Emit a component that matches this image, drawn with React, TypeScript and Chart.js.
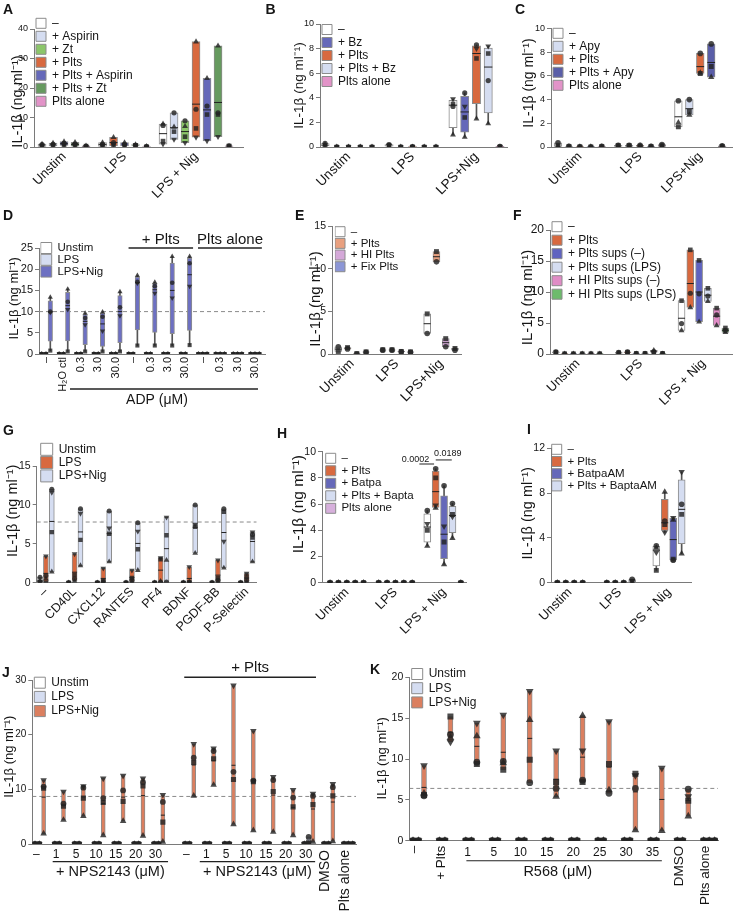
import React, { useEffect, useRef } from 'react';
import { Chart, registerables } from 'chart.js';

Chart.register(...registerables);

const FONT = "'Liberation Sans', Arial, Helvetica, sans-serif";
const Y_TITLE = 'IL-1β (ng ml⁻¹)';
const Z4 = [0, 0, 0, 0];
const T3 = [0, 1, 2];

// ================= DATA =================
// ---- A ----
const A_CONDS = ['–', '+ Aspirin', '+ Zt', '+ Plts', '+ Plts + Aspirin', '+ Plts + Zt', 'Plts alone'];
const A_GROUPS = ['Unstim', 'LPS', 'LPS + Nig'];
const A_ITEMS = [[0, 1, 4, 5, 6], [0, 3, 4, 5, 6], [0, 1, 2, 3, 4, 5, 6]];
const A_VALUES = [
  [[1.0, 0.8, 0.2, 0.5], [1.3, 0.9, 0.4, 0.6], [1.8, 1.2, 0.5, 0.9], [1.6, 1.0, 0.3, 0.7], [0.4, 0.2, 0.3, 0.1]],
  [[1.5, 0.9, 0.2, 0.6], [3.3, 1.5, 0.4, 0.8], [1.5, 0.9, 0.4, 0.6], [0.8, 0.6, 0.5, 0.7], [0.2, 0.1, 0.1, 0.0]],
  [[7.8, 7.3, 2.0, 1.0], [6.8, 11.6, 5.2, 2.6], [7.0, 8.9, 3.5, 1.5], [35.7, 12.8, 6.3, 3.3], [23.3, 13.9, 11.0, 2.1], [34.3, 11.6, 11.0, 3.5], [0.3, 0.2, 0.4, 0.3]],
];
const A_Y_TICKS = [0, 10, 20, 30, 40];

// ---- B ----
const B_CONDS = ['–', '+ Bz', '+ Plts', '+ Plts + Bz', 'Plts alone'];
const B_GROUPS = ['Unstim', 'LPS', 'LPS+Nig'];
const B_ITEMS = [[0, 1, 2, 3, 4], [0, 1, 2, 3, 4], [0, 1, 2, 3, 4]];
const B_VALUES = [
  [[0.3, 0.15, 0.1, 0.2], Z4, Z4, Z4, Z4],
  [[0.2, 0.1, 0.15, 0.05], Z4, [0.03, 0.02, 0.01, 0], Z4, Z4],
  [[3.3, 3.9, 3.5, 1.0], [4.4, 3.3, 2.4, 0.8], [8.3, 8.0, 7.2, 2.3], [5.4, 8.2, 7.6, 1.9], [0.05, 0.02, 0.03, 0]],
];
const B_Y_TICKS = [0, 2, 4, 6, 8, 10];

// ---- C ----
const C_CONDS = ['–', '+ Apy', '+ Plts', '+ Plts + Apy', 'Plts alone'];
const C_GROUPS = ['Unstim', 'LPS', 'LPS+Nig'];
const C_ITEMS = [[0, 1, 2, 3, 4], [0, 1, 2, 3, 4], [0, 1, 2, 3, 4]];
const C_VALUES = [
  [[0.35, 0.1, 0.05], [0.05, 0.02, 0], [0.02, 0, 0.01], [0, 0, 0.01], [0.05, 0.02, 0]],
  [[0.15, 0.1, 0.05], [0.15, 0.1, 0.05], [0.15, 0.05, 0.1], [0.05, 0.02, 0], [0.2, 0.1, 0.05]],
  [[3.9, 1.7, 2.05], [4.0, 3.0, 2.7], [7.9, 6.2, 6.25], [8.7, 6.8, 5.9], [0.1, 0.05, 0.02]],
];
const C_Y_TICKS = [0, 2, 4, 6, 8, 10];

// ---- D ----
const D_CONDS = ['Unstim', 'LPS', 'LPS+Nig'];
const D_GROUPS = ['–', 'H₂O ctl', '0.3', '3.0', '30.0', '–', '0.3', '3.0', '30.0', '–', '0.3', '3.0', '30.0'];
const D_ITEMS = [T3, T3, T3, T3, T3, T3, T3, T3, T3, T3, T3, T3, T3];
const D_VALUES = [
  [Z4, Z4, [13.4, 10.0, 9.8, 0.8]],
  [Z4, Z4, [15.3, 12.3, 10.5, 0.6]],
  [Z4, Z4, [9.6, 8.5, 6.9, 0.6]],
  [Z4, Z4, [9.9, 8.8, 5.4, 0.6]],
  [Z4, Z4, [14.7, 11.0, 9.0, 0.6]],
  [Z4, Z4, [18.5, 17.0, 16.7, 2.0]],
  [Z4, Z4, [16.9, 16.0, 14.3, 2.0]],
  [Z4, Z4, [23.0, 16.8, 13.2, 2.0]],
  [Z4, Z4, [23.0, 21.4, 16.0, 2.1]],
  [Z4, Z4, Z4],
  [Z4, Z4, Z4],
  [Z4, Z4, Z4],
  [Z4, Z4, Z4],
];
const D_Y_TICKS = [0, 5, 10, 15, 20, 25];
const D_REF = 10;

// ---- E ----
const E_CONDS = ['–', '+ Plts', '+ HI Plts', '+ Fix Plts'];
const E_GROUPS = ['Unstim', 'LPS', 'LPS+Nig'];
const E_ITEMS = [[0, 1, 2, 3], [0, 1, 2, 3], [0, 1, 2, 3]];
const E_VALUES = [
  [[0.3, 0.85], [0.75, 0.6], [0.05, 0.0], [0.25, 0.2]],
  [[0.5, 0.45], [0.5, 0.45], [0.3, 0.25], [0.25, 0.2]],
  [[4.7, 2.4], [12.0, 10.8], [1.8, 0.85], [0.65, 0.45]],
];
const E_Y_TICKS = [0, 5, 10, 15];

// ---- F ----
const F_CONDS = ['–', '+ Plts', '+ Plts sups (–)', '+ Plts sups (LPS)', '+ HI Plts sups (–)', '+ HI Plts sups (LPS)'];
const F_GROUPS = ['Unstim', 'LPS', 'LPS + Nig'];
const F_ITEMS = [[0, 1, 2, 3, 4, 5], [0, 1, 2, 3, 4, 5], [0, 1, 2, 3, 4, 5]];
const F_VALUES = [
  [[0.3, 0.35, 0.2], [0.05, 0, 0], [0.05, 0, 0], [0.05, 0, 0], [0.05, 0, 0], [0.05, 0, 0]],
  [[0.2, 0.25, 0.1], [0.3, 0.35, 0.2], [0.1, 0.05, 0], [0.1, 0.05, 0], [0.3, 0.35, 0.6], [0.1, 0.05, 0]],
  [[8.6, 4.9, 3.8], [16.8, 9.8, 7.5], [15.1, 9.7, 5.2], [10.6, 9.35, 8.5], [7.4, 6.3, 4.6], [4.2, 3.8, 3.5]],
];
const F_Y_TICKS = [0, 5, 10, 15, 20];

// ---- G ----
const G_CONDS = ['Unstim', 'LPS', 'LPS+Nig'];
const G_GROUPS = ['–', 'CD40L', 'CXCL12', 'RANTES', 'PF4', 'BDNF', 'PGDF-BB', 'P-Selectin'];
const G_ITEMS = [T3, T3, T3, T3, T3, T3, T3, T3];
const G_VALUES = [
  [[0.7, 0.05, 0.0, 0.3], [0.9, 3.4, 0.0, 0.5], [12.0, 11.6, 6.5, 1.4]],
  [Z4, [0.5, 3.7, 1.0, 0.2], [9.5, 8.9, 5.5, 2.2]],
  [Z4, [0.1, 1.85, 0.2, 0.05], [9.2, 7.0, 6.3, 2.7]],
  [Z4, [0.3, 1.6, 0.6, 0.1], [7.7, 6.6, 4.3, 1.6]],
  [Z4, [0.05, 3.2, 3.0, 0.2], [0.1, 8.4, 6.1, 2.9]],
  [Z4, [0.1, 2.05, 0.0, 0.05], [10.0, 7.5, 7.2, 3.8]],
  [Z4, [0.3, 2.9, 0.6, 0.1], [9.5, 5.3, 9.1, 1.9]],
  [Z4, [0.3, 1.2, 0.8, 0.1], [6.2, 6.5, 5.8, 2.7]],
];
const G_Y_TICKS = [0, 5, 10, 15];
const G_REF = 7.8;

// ---- H ----
const H_CONDS = ['–', '+ Plts', '+ Batpa', '+ Plts + Bapta', 'Plts alone'];
const H_GROUPS = ['Unstim', 'LPS', 'LPS + Nig'];
const H_ITEMS = [[0, 1, 2, 3, 4], [0, 1, 2, 3, 4], [0, 1, 2, 3, 4]];
const H_VALUES = [
  [Z4, Z4, Z4, Z4, Z4],
  [Z4, Z4, Z4, Z4, Z4],
  [[5.5, 4.0, 4.5, 2.8], [8.7, 8.0, 5.9, 5.7], [7.4, 3.1, 4.3, 1.4], [6.05, 5.2, 5.05, 3.4], Z4],
];
const H_Y_TICKS = [0, 2, 4, 6, 8, 10];
const H_P_VALUES = ['0.0002', '0.0189'];

// ---- I ----
const I_CONDS = ['–', '+ Plts', '+ BatpaAM', '+ Plts + BaptaAM'];
const I_GROUPS = ['Unstim', 'LPS', 'LPS + Nig'];
const I_ITEMS = [[0, 1, 2, 3], [0, 1, 2, 3], [0, 1, 2, 3]];
const I_VALUES = [
  [Z4, Z4, Z4, Z4],
  [Z4, Z4, Z4, [0.3, 0.1, 0.2, 0.0]],
  [[3.3, 1.1, 2.7, 3.1], [5.5, 5.2, 4.5, 8.1], [2.0, 2.1, 5.8, 5.6], [7.0, 6.1, 9.9, 2.6]],
];
const I_Y_TICKS = [0, 4, 8, 12];

// ---- J ----
const J_CONDS = ['Unstim', 'LPS', 'LPS+Nig'];
const J_GROUPS = ['–', '1', '5', '10', '15', '20', '30', '–', '1', '5', '10', '15', '20', '30', 'DMSO', 'Plts alone'];
const J_ITEMS = [T3, T3, T3, T3, T3, T3, T3, T3, T3, T3, T3, T3, T3, T3, T3, T3];
const J_VALUES = [
  [Z4, Z4, [11.7, 10.5, 10.2, 1.9]],
  [Z4, Z4, [9.6, 7.4, 6.9, 4.4]],
  [Z4, Z4, [10.6, 10.3, 8.4, 5.1]],
  [Z4, Z4, [12.0, 8.4, 7.6, 1.6]],
  [Z4, Z4, [12.5, 9.8, 7.8, 4.2]],
  [Z4, Z4, [12.0, 11.3, 10.6, 1.5]],
  [Z4, Z4, [9.0, 7.7, 4.0, 0.4]],
  [Z4, Z4, [18.3, 15.8, 14.9, 8.8]],
  [Z4, Z4, [17.5, 17.0, 15.6, 10.8]],
  [Z4, Z4, [29.0, 13.2, 11.8, 3.6]],
  [Z4, Z4, [20.7, 11.6, 11.4, 2.5]],
  [Z4, Z4, [12.3, 11.7, 9.6, 2.2]],
  [Z4, Z4, [9.9, 8.5, 6.8, 1.6]],
  [Z4, [0.1, 1.3, 0.2, 0.0], [9.2, 8.8, 7.2, 0.4]],
  [Z4, Z4, [11.0, 10.4, 8.8, 0.5]],
  [Z4, Z4, Z4],
];
const J_Y_TICKS = [0, 10, 20, 30];
const J_REF = 8.7;

// ---- K ----
const K_CONDS = ['Unstim', 'LPS', 'LPS+Nig'];
const K_GROUPS = ['–', '+ Plts', '1', '5', '10', '15', '20', '25', '30', '35', 'DMSO', 'Plts alone'];
const K_ITEMS = [T3, T3, T3, T3, T3, T3, T3, T3, T3, T3, T3, T3];
const K_VALUES = [
  [Z4, Z4, [9.2, 5.8, 5.6, 5.5]],
  [Z4, Z4, [12.1, 12.6, 15.2, 13.0]],
  [Z4, Z4, [14.4, 12.8, 9.4, 9.6]],
  [Z4, Z4, [15.4, 9.5, 8.7, 9.7]],
  [Z4, Z4, [18.3, 14.8, 9.9, 7.1]],
  [Z4, Z4, [11.0, 5.4, 7.2, 6.4]],
  [Z4, Z4, [11.0, 15.3, 7.2, 7.4]],
  [Z4, Z4, [14.6, 6.2, 9.4, 5.8]],
  [Z4, Z4, [8.0, 1.3, 8.2, 6.4]],
  [Z4, Z4, [8.9, 1.2]],
  [Z4, Z4, [5.4, 3.0, 4.9, 6.3]],
  [Z4, Z4, Z4],
];
const K_Y_TICKS = [0, 5, 10, 15, 20];
const K_REF = 6.4;

// ================= STYLE =================
const WHITE = '#ffffff';
const LBLUE = '#d5ddf1';
const ORANGE = '#d8693f';
const BLUE = '#6568b9';
const PINK = '#e293c8';
const PT = 'rgba(35,35,35,0.82)';
const AXIS = '#7a7a7a';
const TXT = '#151515';
const BOX_BORDER = '#8c8c8c';

const A_COLORS = [WHITE, LBLUE, '#8cc66a', ORANGE, BLUE, '#669a5f', PINK];
const B_COLORS = [WHITE, BLUE, ORANGE, LBLUE, PINK];
const C_COLORS = [WHITE, LBLUE, ORANGE, '#5a5ea8', PINK];
const D_COLORS = [WHITE, LBLUE, '#6d70c2'];
const E_COLORS = [WHITE, '#e9a07f', '#d4a8d8', '#8c96d6'];
const F_COLORS = [WHITE, ORANGE, '#5f63c0', LBLUE, '#e08cc6', '#6dbb6c'];
const G_COLORS = [WHITE, ORANGE, LBLUE];
const H_COLORS = [WHITE, ORANGE, BLUE, LBLUE, '#d7b0dc'];
const I_COLORS = [WHITE, ORANGE, BLUE, LBLUE];
const JK_COLORS = [WHITE, LBLUE, '#db7f5f'];

// ================= HELPERS =================
function mean(v: number[]) {
  return v.reduce((a, b) => a + b, 0) / v.length;
}
function quant(sorted: number[], p: number) {
  const n = sorted.length;
  const h = (n + 1) * p;
  if (h <= 1) return sorted[0];
  if (h >= n) return sorted[n - 1];
  const lo = Math.floor(h);
  return sorted[lo - 1] + (h - lo) * (sorted[lo] - sorted[lo - 1]);
}

function buildConfig(def: any) {
  const [cx, cy, cw, ch] = def.canvas;
  const [al, at, ar, ab] = def.area;
  const starts: number[] = [];
  let s = 0;
  def.items.forEach((items: number[], g: number) => {
    if (g > 0) s += def.gap + ((def.extraGap && def.extraGap[g]) || 0);
    starts.push(s);
    s += items.length;
  });
  const lastG = def.items.length - 1;
  const lastX = starts[lastG] + def.items[lastG].length - 1;
  const xMin = -def.padL;
  const xMax = lastX + def.padR;
  const pos = (g: number, i: number) => starts[g] + i;
  const yMax = def.yTicks[def.yTicks.length - 1];

  const boxes = def.conds.map((label: string, c: number) => ({
    type: 'bar', label, isLegend: true, data: [] as any[],
    backgroundColor: def.colors[c], borderColor: BOX_BORDER, borderWidth: 1, borderSkipped: false,
    barThickness: def.barW, grouped: false, order: 3,
  }));
  const whisk = { type: 'bar', label: 'w', data: [] as any[], backgroundColor: '#555', borderWidth: 0, barThickness: 1, grouped: false, order: 4 };
  const centre = {
    type: 'scatter', label: 'm', data: [] as any[], pointStyle: 'line', pointRadius: def.barW / 2,
    pointBorderColor: '#222', pointBackgroundColor: '#222', pointBorderWidth: 1, order: 2,
  };
  const pts = def.shapes.map((sh: string, r: number) => ({
    type: 'scatter', label: 'p' + r, data: [] as any[],
    pointStyle: sh === 'down' ? 'triangle' : sh,
    pointRotation: sh === 'down' ? 180 : 0,
    pointRadius: sh === 'circle' ? def.pointR : sh === 'rect' ? def.pointR * 1.25 : def.pointR * 1.3,
    pointBackgroundColor: PT, pointBorderColor: PT, pointBorderWidth: 0,
    order: sh === 'rect' ? 0.9 : 1,
  }));

  def.items.forEach((items: number[], g: number) => items.forEach((c: number, i: number) => {
    const x = pos(g, i);
    const v: number[] = def.values[g][i];
    const sorted = [...v].sort((a, b) => a - b);
    const lo = sorted[0];
    const hi = sorted[sorted.length - 1];
    if (def.mode === 'range') {
      if (hi - lo > 0) boxes[c].data.push({ x, y: [lo, hi] });
      if (hi - lo > yMax * 0.03) centre.data.push({ x, y: mean(v) });
    } else {
      if (hi - lo > 0) {
        whisk.data.push({ x, y: [lo, hi] });
        boxes[c].data.push({ x, y: [quant(sorted, 0.25), quant(sorted, 0.75)] });
      }
      if (hi - lo > yMax * 0.03) centre.data.push({ x, y: quant(sorted, 0.5) });
    }
    v.forEach((val, r) => pts[r % pts.length].data.push({ x, y: val }));
  }));

  const datasets: any[] = [...boxes, whisk, centre, ...pts];
  if (def.ref !== undefined) {
    datasets.push({
      type: 'line', label: 'ref', data: [{ x: xMin, y: def.ref }, { x: xMax, y: def.ref }],
      borderColor: '#8a8a8a', borderWidth: 1, borderDash: [4, 3], pointRadius: 0, order: 5,
    });
  }

  const vertical: number[] = def.vertical || [];
  const labelAt = (g: number) => (def.labelAt === 'center' ? (def.items[g].length - 1) / 2 : def.labelAt);
  const tickVals = def.groups.map((_: string, g: number) => pos(g, labelAt(g)));
  const tickLabels = def.groups.map((t: string, g: number) => (vertical.includes(g) ? '' : t));

  const lg = def.legend;
  const boxH = lg.box;
  const itemH = Math.max(lg.font, boxH);
  const lpad = lg.spacing - itemH;

  const decor = {
    id: 'decor' + def.key,
    afterLayout(chart: any) {
      const L = chart.legend;
      if (!L) return;
      L.left = lg.x - cx - lpad;
      L.top = lg.y - cy - lpad;
      L.right = L.left + 400;
      L.bottom = L.top + 400;
    },
    afterDraw(chart: any) {
      const ctx = chart.ctx;
      const xs = chart.scales.x;
      const ys = chart.scales.y;
      const bottom = chart.chartArea.bottom;
      const X = (g: number, i: number) => xs.getPixelForValue(pos(g, i));
      const Y = (a: any) => (a.y !== undefined ? ys.getPixelForValue(a.y) : bottom + a.below);
      ctx.save();
      ctx.fillStyle = TXT;
      ctx.strokeStyle = '#222';
      ctx.font = `bold 14px ${FONT}`;
      ctx.textAlign = 'left';
      ctx.textBaseline = 'top';
      ctx.fillText(def.letter.t, def.letter.x - cx, def.letter.y - cy);

      ctx.save();
      ctx.translate(def.title.x - cx, def.title.y - cy);
      ctx.rotate(-Math.PI / 2);
      ctx.font = `${def.title.size}px ${FONT}`;
      ctx.textAlign = 'center';
      ctx.textBaseline = 'middle';
      ctx.fillText(Y_TITLE, 0, 0);
      ctx.restore();

      vertical.forEach((g: number) => {
        ctx.save();
        ctx.translate(X(g, def.vertAt), bottom + def.vertBelow);
        ctx.rotate(-Math.PI / 2);
        ctx.font = `${def.vertFont}px ${FONT}`;
        ctx.textAlign = 'right';
        ctx.textBaseline = 'middle';
        ctx.fillText(def.groups[g], 0, 0);
        ctx.restore();
      });

      (def.anns || []).forEach((a: any) => {
        if (a.kind === 'line') {
          ctx.beginPath();
          ctx.lineWidth = a.w || 1.3;
          const y = Y(a);
          ctx.moveTo(X(a.g0, a.i0), y);
          ctx.lineTo(X(a.g1, a.i1), y);
          ctx.stroke();
        } else {
          ctx.font = `${a.size}px ${FONT}`;
          ctx.textAlign = a.align || 'center';
          ctx.textBaseline = 'middle';
          ctx.fillText(a.text, X(a.g, a.i), Y(a));
        }
      });
      ctx.restore();
    },
  };

  return {
    type: 'bar',
    data: { datasets },
    options: {
      responsive: false,
      animation: false,
      devicePixelRatio: 1,
      events: [],
      layout: { padding: { left: 0, top: at - cy, right: cx + cw - ar, bottom: 0 } },
      plugins: {
        tooltip: { enabled: false },
        legend: {
          display: true,
          position: 'chartArea',
          align: 'start',
          labels: {
            boxWidth: lg.box, boxHeight: boxH, padding: lpad,
            font: { size: lg.font, family: FONT }, color: TXT,
            filter: (item: any, data: any) => !!data.datasets[item.datasetIndex].isLegend,
          },
        },
      },
      scales: {
        x: {
          type: 'linear', min: xMin, max: xMax, offset: false, bounds: 'data',
          grid: { display: false, drawTicks: false, offset: false },
          border: { display: true, color: AXIS, width: 1 },
          afterBuildTicks: (sc: any) => { sc.ticks = tickVals.map((value: number) => ({ value })); },
          afterFit: (sc: any) => { sc.height = ch - (ab - cy); },
          ticks: {
            autoSkip: false, minRotation: def.rotation, maxRotation: def.rotation,
            padding: def.tickPad, color: TXT, font: { size: def.tickFont, family: FONT },
            callback: (_v: any, i: number) => tickLabels[i],
          },
        },
        y: {
          type: 'linear', min: 0, max: yMax, bounds: 'data',
          grid: { display: true, drawOnChartArea: false, drawTicks: true, tickLength: 4, color: AXIS },
          border: { display: true, color: AXIS, width: 1 },
          afterBuildTicks: (sc: any) => { sc.ticks = def.yTicks.map((value: number) => ({ value })); },
          afterFit: (sc: any) => { sc.width = al - cx; },
          ticks: { padding: 2, color: TXT, font: { size: def.yTickFont, family: FONT } },
        },
      },
    },
    plugins: [decor],
  };
}

// ================= PANELS =================
const PANELS: any[] = [
  {
    key: 'A', canvas: [0, 0, 255, 210], area: [34, 29, 243, 147],
    conds: A_CONDS, colors: A_COLORS, groups: A_GROUPS, items: A_ITEMS, values: A_VALUES, yTicks: A_Y_TICKS,
    mode: 'range', gap: 0.5, padL: 0.73, padR: 1.27, shapes: ['triangle', 'circle', 'rect', 'down'],
    pointR: 2.6, barW: 8, rotation: 45, tickFont: 13, tickPad: 2, labelAt: 'center', yTickFont: 9,
    legend: { x: 36, y: 17.3, font: 12, box: 10, spacing: 13 },
    title: { x: 18, y: 101.5, size: 14.5 }, letter: { t: 'A', x: 3, y: 3.5 },
  },
  {
    key: 'B', canvas: [245, 0, 275, 210], area: [320, 24, 507, 147],
    conds: B_CONDS, colors: B_COLORS, groups: B_GROUPS, items: B_ITEMS, values: B_VALUES, yTicks: B_Y_TICKS,
    mode: 'box', gap: 0.45, padL: 0.43, padR: 0.6, shapes: ['circle', 'down', 'rect', 'triangle'],
    pointR: 2.6, barW: 8.3, rotation: 45, tickFont: 13.5, tickPad: 2, labelAt: 'center', yTickFont: 9,
    legend: { x: 322, y: 23.5, font: 12, box: 10, spacing: 13 },
    title: { x: 299, y: 85.5, size: 13.5 }, letter: { t: 'B', x: 265.5, y: 3.5 },
  },
  {
    key: 'C', canvas: [490, 0, 247, 210], area: [551, 28.5, 733, 147],
    conds: C_CONDS, colors: C_COLORS, groups: C_GROUPS, items: C_ITEMS, values: C_VALUES, yTicks: C_Y_TICKS,
    mode: 'range', gap: 0.5, padL: 0.64, padR: 0.9, shapes: ['circle', 'rect', 'triangle'],
    pointR: 2.8, barW: 7.7, rotation: 45, tickFont: 13, tickPad: 2, labelAt: 'center', yTickFont: 9,
    legend: { x: 553, y: 27.3, font: 12, box: 10, spacing: 13 },
    title: { x: 529, y: 83, size: 14 }, letter: { t: 'C', x: 515, y: 3.5 },
  },
  {
    key: 'D', canvas: [0, 180, 285, 245], area: [39, 248, 265, 354],
    conds: D_CONDS, colors: D_COLORS, groups: D_GROUPS, items: D_ITEMS, values: D_VALUES, yTicks: D_Y_TICKS,
    mode: 'box', gap: 1.05, padL: 0.63, padR: 1.33, shapes: ['triangle', 'circle', 'down', 'rect'],
    pointR: 2.3, barW: 4.5, rotation: 90, tickFont: 11, tickPad: 3, labelAt: 1, yTickFont: 11, ref: D_REF,
    legend: { x: 40.7, y: 242.25, font: 11.5, box: 11, spacing: 11.8 },
    title: { x: 14, y: 298.3, size: 13 }, letter: { t: 'D', x: 3, y: 209.5 },
    anns: [
      { kind: 'line', g0: 5, i0: -0.05, g1: 8, i1: 2.8, y: 25 },
      { kind: 'text', g: 6, i: 3.4, y: 27, text: '+ Plts', size: 15 },
      { kind: 'line', g0: 9, i0: -0.1, g1: 12, i1: 2.6, y: 25 },
      { kind: 'text', g: 10, i: 3.3, y: 27, text: 'Plts alone', size: 15 },
      { kind: 'line', g0: 2, i0: -1.52, g1: 12, i1: 1.7, below: 35 },
      { kind: 'text', g: 6, i: 2.5, below: 46, text: 'ADP (μM)', size: 14 },
    ],
  },
  {
    key: 'E', canvas: [245, 180, 250, 245], area: [332, 226, 461, 354],
    conds: E_CONDS, colors: E_COLORS, groups: E_GROUPS, items: E_ITEMS, values: E_VALUES, yTicks: E_Y_TICKS,
    mode: 'range', gap: 0.8, padL: 0.68, padR: 0.65, shapes: ['rect', 'circle'],
    pointR: 2.8, barW: 7, rotation: 45, tickFont: 13.5, tickPad: 2, labelAt: 'center', yTickFont: 10.5,
    legend: { x: 335, y: 225.95, font: 11.5, box: 10, spacing: 11.67 },
    title: { x: 315.7, y: 299, size: 15 }, letter: { t: 'E', x: 295, y: 209.5 },
  },
  {
    key: 'F', canvas: [490, 180, 247, 245], area: [550, 230, 735, 354],
    conds: F_CONDS, colors: F_COLORS, groups: F_GROUPS, items: F_ITEMS, values: F_VALUES, yTicks: F_Y_TICKS,
    mode: 'range', gap: 1.16, padL: 0.67, padR: 0.75, shapes: ['rect', 'circle', 'triangle'],
    pointR: 2.6, barW: 7, rotation: 45, tickFont: 13, tickPad: 2, labelAt: 'center', yTickFont: 12,
    legend: { x: 552, y: 220.7, font: 12, box: 10, spacing: 13.5 },
    title: { x: 527.5, y: 297.5, size: 15 }, letter: { t: 'F', x: 513, y: 209.5 },
  },
  {
    key: 'G', canvas: [0, 390, 270, 250], area: [36.7, 466, 256.7, 582.7],
    conds: G_CONDS, colors: G_COLORS, groups: G_GROUPS, items: G_ITEMS, values: G_VALUES, yTicks: G_Y_TICKS,
    mode: 'range', gap: 1.86, padL: 0.56, padR: 0.71, shapes: ['circle', 'down', 'rect', 'triangle'],
    pointR: 2.5, barW: 5, rotation: 45, tickFont: 12.5, tickPad: 2, labelAt: 1, yTickFont: 10.5, ref: G_REF,
    legend: { x: 40.7, y: 443.3, font: 12, box: 12, spacing: 13.3 },
    title: { x: 12.5, y: 510.8, size: 14.5 }, letter: { t: 'G', x: 3, y: 424.5 },
  },
  {
    key: 'H', canvas: [245, 390, 250, 250], area: [322, 451.7, 466.7, 582.7],
    conds: H_CONDS, colors: H_COLORS, groups: H_GROUPS, items: H_ITEMS, values: H_VALUES, yTicks: H_Y_TICKS,
    mode: 'box', gap: 0.8, padL: 0.96, padR: 0.7, shapes: ['circle', 'rect', 'down', 'triangle'],
    pointR: 2.8, barW: 7, rotation: 45, tickFont: 13, tickPad: 2, labelAt: 'center', yTickFont: 10.5,
    legend: { x: 325.7, y: 452.55, font: 11.5, box: 10, spacing: 12.5 },
    title: { x: 298.3, y: 504.2, size: 15.5 }, letter: { t: 'H', x: 277, y: 427.5 },
    anns: [
      { kind: 'line', g0: 2, i0: -0.95, g1: 2, i1: 0.81, y: 9.06, w: 1 },
      { kind: 'text', g: 2, i: 0.24, y: 9.37, text: H_P_VALUES[0], size: 9, align: 'right' },
      { kind: 'line', g0: 2, i0: 1.01, g1: 2, i1: 2.92, y: 9.37, w: 1 },
      { kind: 'text', g: 2, i: 2.44, y: 9.88, text: H_P_VALUES[1], size: 9 },
    ],
  },
  {
    key: 'I', canvas: [490, 390, 247, 250], area: [551, 448.3, 691.7, 582.7],
    conds: I_CONDS, colors: I_COLORS, groups: I_GROUPS, items: I_ITEMS, values: I_VALUES, yTicks: I_Y_TICKS,
    mode: 'box', gap: 1.86, padL: 0.75, padR: 1.19, shapes: ['circle', 'rect', 'down', 'triangle'],
    pointR: 2.8, barW: 7, rotation: 45, tickFont: 13, tickPad: 2, labelAt: 'center', yTickFont: 10.5,
    legend: { x: 551.7, y: 443.55, font: 11.5, box: 10, spacing: 12.2 },
    title: { x: 527.5, y: 513.3, size: 14.5 }, letter: { t: 'I', x: 527, y: 423.5 },
  },
  {
    key: 'J', canvas: [0, 590, 375, 323], area: [32.3, 680, 356, 844],
    conds: J_CONDS, colors: JK_COLORS, groups: J_GROUPS, items: J_ITEMS, values: J_VALUES, yTicks: J_Y_TICKS,
    mode: 'range', gap: 1.6, extraGap: { 7: 2.55 }, padL: 0.62, padR: 0.76, shapes: ['down', 'circle', 'rect', 'triangle'],
    pointR: 2.9, barW: 4, rotation: 0, tickFont: 12, tickPad: 3, labelAt: 0.3, yTickFont: 10, ref: J_REF,
    vertical: [14, 15], vertAt: 0.2, vertBelow: 6, vertFont: 14,
    legend: { x: 34.3, y: 676.7, font: 12, box: 11, spacing: 14.2 },
    title: { x: 9, y: 756.7, size: 13 }, letter: { t: 'J', x: 2, y: 666.5 },
    anns: [
      { kind: 'line', g0: 7, i0: -0.2, g1: 13, i1: 2.7, y: 30.5, w: 1.6 },
      { kind: 'text', g: 10, i: 1.25, y: 32.2, text: '+ Plts', size: 15 },
      { kind: 'line', g0: 1, i0: -0.5, g1: 6, i1: 3.2, below: 17.7 },
      { kind: 'text', g: 3, i: 3.65, below: 27.7, text: '+ NPS2143 (μM)', size: 14.5 },
      { kind: 'line', g0: 8, i0: -1.2, g1: 13, i1: 2.5, below: 17.7 },
      { kind: 'text', g: 11, i: -1.65, below: 27.7, text: '+ NPS2143 (μM)', size: 14.5 },
    ],
  },
  {
    key: 'K', canvas: [370, 590, 367, 323], area: [409.3, 677.3, 718, 840.7],
    conds: K_CONDS, colors: JK_COLORS, groups: K_GROUPS, items: K_ITEMS, values: K_VALUES, yTicks: K_Y_TICKS,
    mode: 'range', gap: 1.8, padL: 0.67, padR: 0.6, shapes: ['down', 'triangle', 'rect', 'circle'],
    pointR: 3.4, barW: 5, rotation: 0, tickFont: 12, tickPad: 5, labelAt: 0.3, yTickFont: 10.5, ref: K_REF,
    vertical: [0, 1, 10, 11], vertAt: 0.3, vertBelow: 5, vertFont: 13.5,
    legend: { x: 411.7, y: 668, font: 12, box: 11, spacing: 14.2 },
    title: { x: 382.3, y: 758.3, size: 13 }, letter: { t: 'K', x: 370, y: 663.5 },
    anns: [
      { kind: 'line', g0: 2, i0: 0.1, g1: 9, i1: 2, below: 20, w: 1.1 },
      { kind: 'text', g: 5, i: 2.3, below: 31, text: 'R568 (μM)', size: 14.5 },
    ],
  },
];

function PanelChart({ def }: { def: any }) {
  const ref = useRef<HTMLCanvasElement>(null);
  useEffect(() => {
    const chart = new Chart(ref.current as HTMLCanvasElement, buildConfig(def) as any);
    return () => chart.destroy();
  }, [def]);
  const [x, y, w, h] = def.canvas;
  return (
    <canvas
      ref={ref}
      width={w}
      height={h}
      style={{ position: 'absolute', left: x, top: y, width: w, height: h }}
    />
  );
}

export default function App() {
  return (
    <div style={{ position: 'absolute', left: 0, top: 0, width: 737, height: 913, background: '#ffffff', overflow: 'hidden' }}>
      {PANELS.map((p) => (
        <PanelChart key={p.key} def={p} />
      ))}
    </div>
  );
}
